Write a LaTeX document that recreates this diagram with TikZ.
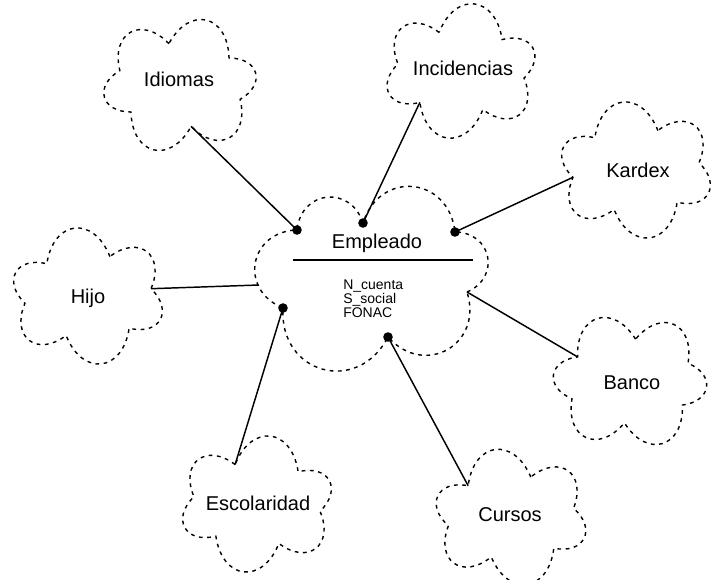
\documentclass[tikz,border=0pt]{standalone}
\usepackage{fontspec}
\setmainfont{Liberation Sans}
\newcommand\bcloud[6]{%
  \foreach \k in {1,...,6}{%
    \coordinate (#1-\k) at ({#2+#4*cos(#6+60*\k)},{#3-#5*sin(#6+60*\k)});}%
  \draw[cloudline] (#1-1) to[lobe] (#1-2) to[lobe] (#1-3) to[lobe] (#1-4) to[lobe] (#1-5) to[lobe] (#1-6) to[lobe] (#1-1);%
}
\begin{document}
\begin{tikzpicture}[x=0.75pt,y=-0.75pt,
  cloudline/.style={line width=1.05pt, dash pattern=on 2.8pt off 3.4pt},
  lobe/.style={bend right=75, looseness=1.8},
  emplobe/.style={bend right=78, looseness=1.55},
  conn/.style={line width=1.1pt},
  title/.style={font=\fontsize{15}{18}\selectfont, inner sep=0pt},
  attr/.style={font=\fontsize{10.5}{10.5}\selectfont, inner sep=0pt, align=left, anchor=north west},
  dotmark/.style={fill=black}
]
\useasboundingbox (0,0) rectangle (715,580);

% outer clouds
\bcloud{idiomasc}{180}{85}{64}{42}{40}
\bcloud{incidc}{461}{71}{64}{41}{50}
\bcloud{kardexc}{636}{170}{64}{42}{10}
\bcloud{hijoc}{88}{296}{64}{42}{10}
\bcloud{escolc}{257}{504}{64}{42}{50}
\bcloud{bancoc}{630}{381}{64}{42}{25}
\bcloud{cursosc}{511}{517}{64}{42}{12}

\node[title] (idiomas) at (179,79) {Idiomas};
\node[title] (incid) at (463,68) {Incidencias};
\node[title] (kardex) at (638,170) {Kardex};
\node[title] (hijo) at (88,298) {Hijo};
\node[title] (escol) at (258,503) {Escolaridad};
\node[title] (banco) at (632,383) {Banco};
\node[title] (cursos) at (510,515) {Cursos};

% central class cloud
\coordinate (emp-1) at (467,292);
\coordinate (emp-2) at (455,232);
\coordinate (emp-3) at (363,223);
\coordinate (emp-4) at (297,230);
\coordinate (emp-5) at (283,308);
\coordinate (emp-6) at (388,337);
\coordinate (emp-L) at (259,285);
\draw[cloudline] (emp-1) to[emplobe] (emp-2) to[emplobe] (emp-3) to[emplobe] (emp-4) to[emplobe] (emp-5) to[emplobe] (emp-6) to[emplobe] (emp-1);

\node[title] (emp) at (377,243) {Empleado};
\coordinate (ruleL) at (293,260);
\coordinate (ruleR) at (473,260);
\draw[line width=1.2pt] (ruleL) -- (ruleR);
\node[attr] (attrs) at (343,280) {N\_cuenta\\S\_social\\FONAC};

% connectors
\draw[conn] (idiomasc-4) -- (emp-4);
\draw[conn] (incidc-3) -- (emp-3);
\draw[conn] (kardexc-3) -- (emp-2);
\draw[conn] (hijoc-6) -- (emp-L);
\draw[conn] (escolc-1) -- (emp-5);
\draw[conn] (bancoc-2) -- (emp-1);
\draw[conn] (cursosc-2) -- (emp-6);

\fill[dotmark] (emp-4) circle[radius=3.6pt];
\fill[dotmark] (emp-3) circle[radius=3.6pt];
\fill[dotmark] (emp-2) circle[radius=3.6pt];
\fill[dotmark] (emp-5) circle[radius=3.6pt];
\fill[dotmark] (emp-6) circle[radius=3.6pt];
\end{tikzpicture}
\end{document}
